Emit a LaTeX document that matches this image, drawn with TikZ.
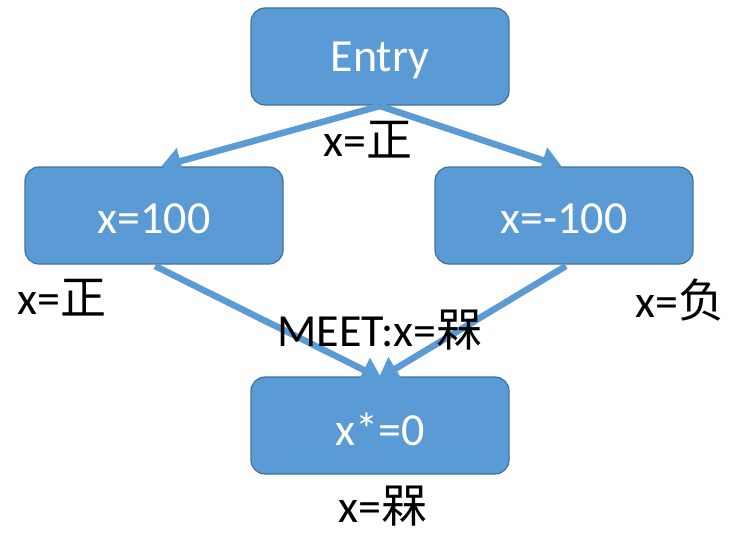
\documentclass[tikz,border=0pt]{standalone}
\usepackage{fontspec}
\setmainfont{Carlito}
\newfontfamily\cjk{Noto Sans CJK SC}
\usetikzlibrary{arrows.meta}
\definecolor{boxfill}{HTML}{5B9BD5}
\definecolor{boxline}{HTML}{41719C}
\tikzset{
  blk/.style={draw=boxline, line width=1.2pt, fill=boxfill, rounded corners=14pt,
    minimum width=258pt, minimum height=97pt, inner sep=0pt},
  blktext/.style={text=white, font=\fontsize{46}{48}\selectfont},
  conn/.style={draw=boxfill, line width=6.5pt, -{Triangle[width=26pt,length=20pt]}, shorten >=-2pt},
  lbl/.style={font=\fontsize{46}{48}\selectfont, inner sep=0pt}
}
\begin{document}
\begin{tikzpicture}[x=1pt,y=-1pt]
\useasboundingbox (0,0) rectangle (730,535);
\node[blk] (entry) at (380,56.5) {};
\node[blk] (a) at (154,215.5) {};
\node[blk] (b) at (564,215.5) {};
\node[blk] (c) at (380,425.5) {};
\node[blktext] (te) at (380,60) {Entry};
\node[blktext] (ta) at (154,219) {x=100};
\node[blktext] (tb) at (564,219) {x=-100};
\node[blktext] (tc) at (380,429) {x*=0};
\coordinate (e0) at (380,106);
\coordinate (a1) at (163,166);
\coordinate (b1) at (560,166);
\coordinate (a0) at (155,266);
\coordinate (b0) at (566,266);
\coordinate (c1) at (380,378);
\draw[conn] (e0) -- (a1);
\draw[conn] (e0) -- (b1);
\draw[conn] (a0) -- (c1);
\draw[conn] (b0) -- (c1);
\node[lbl] (l1) at (368,140) {x={\cjk 正}};
\node[lbl] (l2) at (62,298) {x={\cjk 正}};
\node[lbl] (l3) at (680,300) {x={\cjk 负}};
\node[lbl] (l4) at (380,330) {MEET:x={\cjk 槑}};
\node[lbl] (l5) at (383,506) {x={\cjk 槑}};
\end{tikzpicture}
\end{document}
